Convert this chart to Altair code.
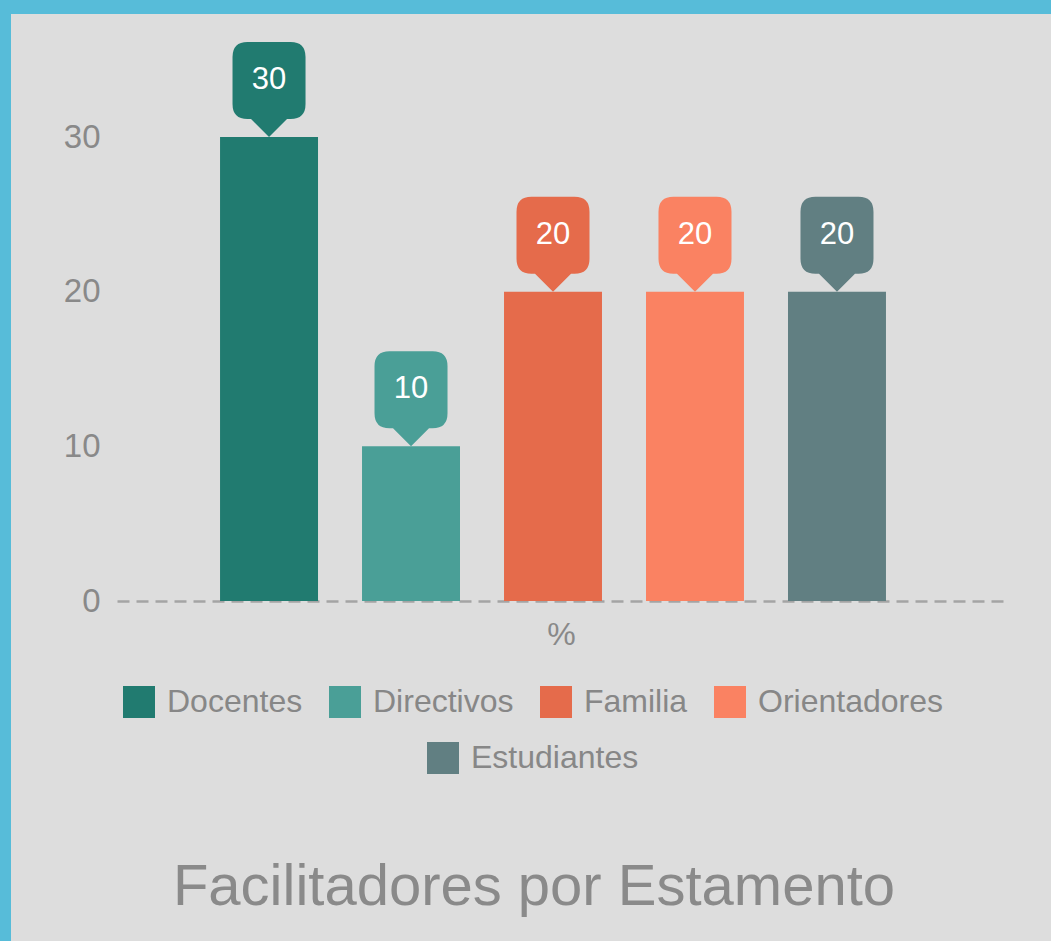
import altair as alt
import pandas as pd

# ---- data ----
series = ["Docentes", "Directivos", "Familia", "Orientadores", "Estudiantes"]
values = [30, 10, 20, 20, 20]
colors = ["#217b70", "#4a9f97", "#e56b4b", "#fa8262", "#617f82"]
category_label = "%"
y_ticks = [0, 10, 20, 30]
title_text = "Facilitadores por Estamento"

row1 = series[:4]
row2 = series[4:]

df = pd.DataFrame({"Serie": series, "Valor": values})
one = pd.DataFrame({"k": [0]})

# ---- style ----
W, H = 888, 464
FONT = "Liberation Sans"
GRAY = "#898989"
BLUE = "#57bcd9"
BG = "#dddddd"
CALLOUT = ("M0,0 L-1.8,-1.8 L-2.15,-1.8 Q-3.65,-1.8 -3.65,-3.3 L-3.65,-8.0 "
           "Q-3.65,-9.5 -2.15,-9.5 L2.15,-9.5 Q3.65,-9.5 3.65,-8.0 L3.65,-3.3 "
           "Q3.65,-1.8 2.15,-1.8 L1.8,-1.8 Z")

x = alt.X(
    "Serie:N",
    sort=series,
    scale=alt.Scale(domain=series, paddingInner=0.31, paddingOuter=0.782, align=0.464),
    axis=alt.Axis(labels=False, ticks=False, domainDash=[12, 7], domainColor="#a4a4a4",
                  domainWidth=2.5, title=category_label, titleFontSize=32, titleColor=GRAY,
                  titleFontWeight="normal", titleFont=FONT, titlePadding=18),
)
y = alt.Y(
    "Valor:Q",
    scale=alt.Scale(domain=[0, 30], nice=False),
    axis=alt.Axis(values=y_ticks, grid=False, ticks=False, domain=False, labelFontSize=33,
                  labelColor=GRAY, labelFont=FONT, labelPadding=17, title=None),
)


def legend(lx, ly):
    return alt.Legend(orient="none", legendX=lx, legendY=ly, direction="horizontal", title=None,
                      symbolType="square", symbolSize=1024, symbolStrokeWidth=0, symbolOpacity=1,
                      labelFontSize=32, labelColor="#878787", labelFont=FONT, labelOffset=12,
                      columnPadding=26, padding=0, labelLimit=400)


legA = legend(6, 549)
legB = legend(310, 605)

colA = alt.Color("Serie:N", scale=alt.Scale(domain=row1, range=colors[:4]), legend=legA, sort=row1)
colB = alt.Fill("Serie:N", scale=alt.Scale(domain=row2, range=colors[4:]), legend=legB)

base = alt.Chart(df)
dA = base.transform_filter(alt.FieldOneOfPredicate(field="Serie", oneOf=row1))
dB = base.transform_filter(alt.FieldOneOfPredicate(field="Serie", oneOf=row2))

barsA = dA.mark_bar().encode(x=x, y=y, color=colA)
barsB = dB.mark_bar().encode(x=x, y=y, fill=colB)

calA = dA.mark_point(shape=CALLOUT, filled=True, size=400, opacity=1, strokeWidth=0).encode(
    x=x, y=y, color=colA)
calB = dB.mark_point(shape=CALLOUT, filled=True, size=400, opacity=1, strokeWidth=0).encode(
    x=x, y=y, fill=colB)

labels = base.mark_text(color="white", fontSize=31, font=FONT, baseline="middle", dy=-57).encode(
    x=x, y=y, text=alt.Text("Valor:Q"))

frame = alt.Chart(one).mark_rect(color=BLUE)
top_strip = frame.encode(x=alt.value(-117), x2=alt.value(W + 46), y=alt.value(-137), y2=alt.value(-123))
left_strip = frame.encode(x=alt.value(-117), x2=alt.value(-106), y=alt.value(-137), y2=alt.value(804))

chart = alt.layer(top_strip, left_strip, barsA, barsB, calA, calB, labels).properties(
    width=W,
    height=H,
    background=BG,
    padding=0,
    title=alt.TitleParams(text=title_text, orient="bottom", frame="group", anchor="middle",
                          fontSize=58, color="#8a8a8a", fontWeight="normal", font=FONT,
                          baseline="alphabetic", offset=0, dy=-36, dx=-27),
).configure_view(strokeWidth=0)

chart.save("out.html", embed_options={"renderer": "svg", "actions": False})
